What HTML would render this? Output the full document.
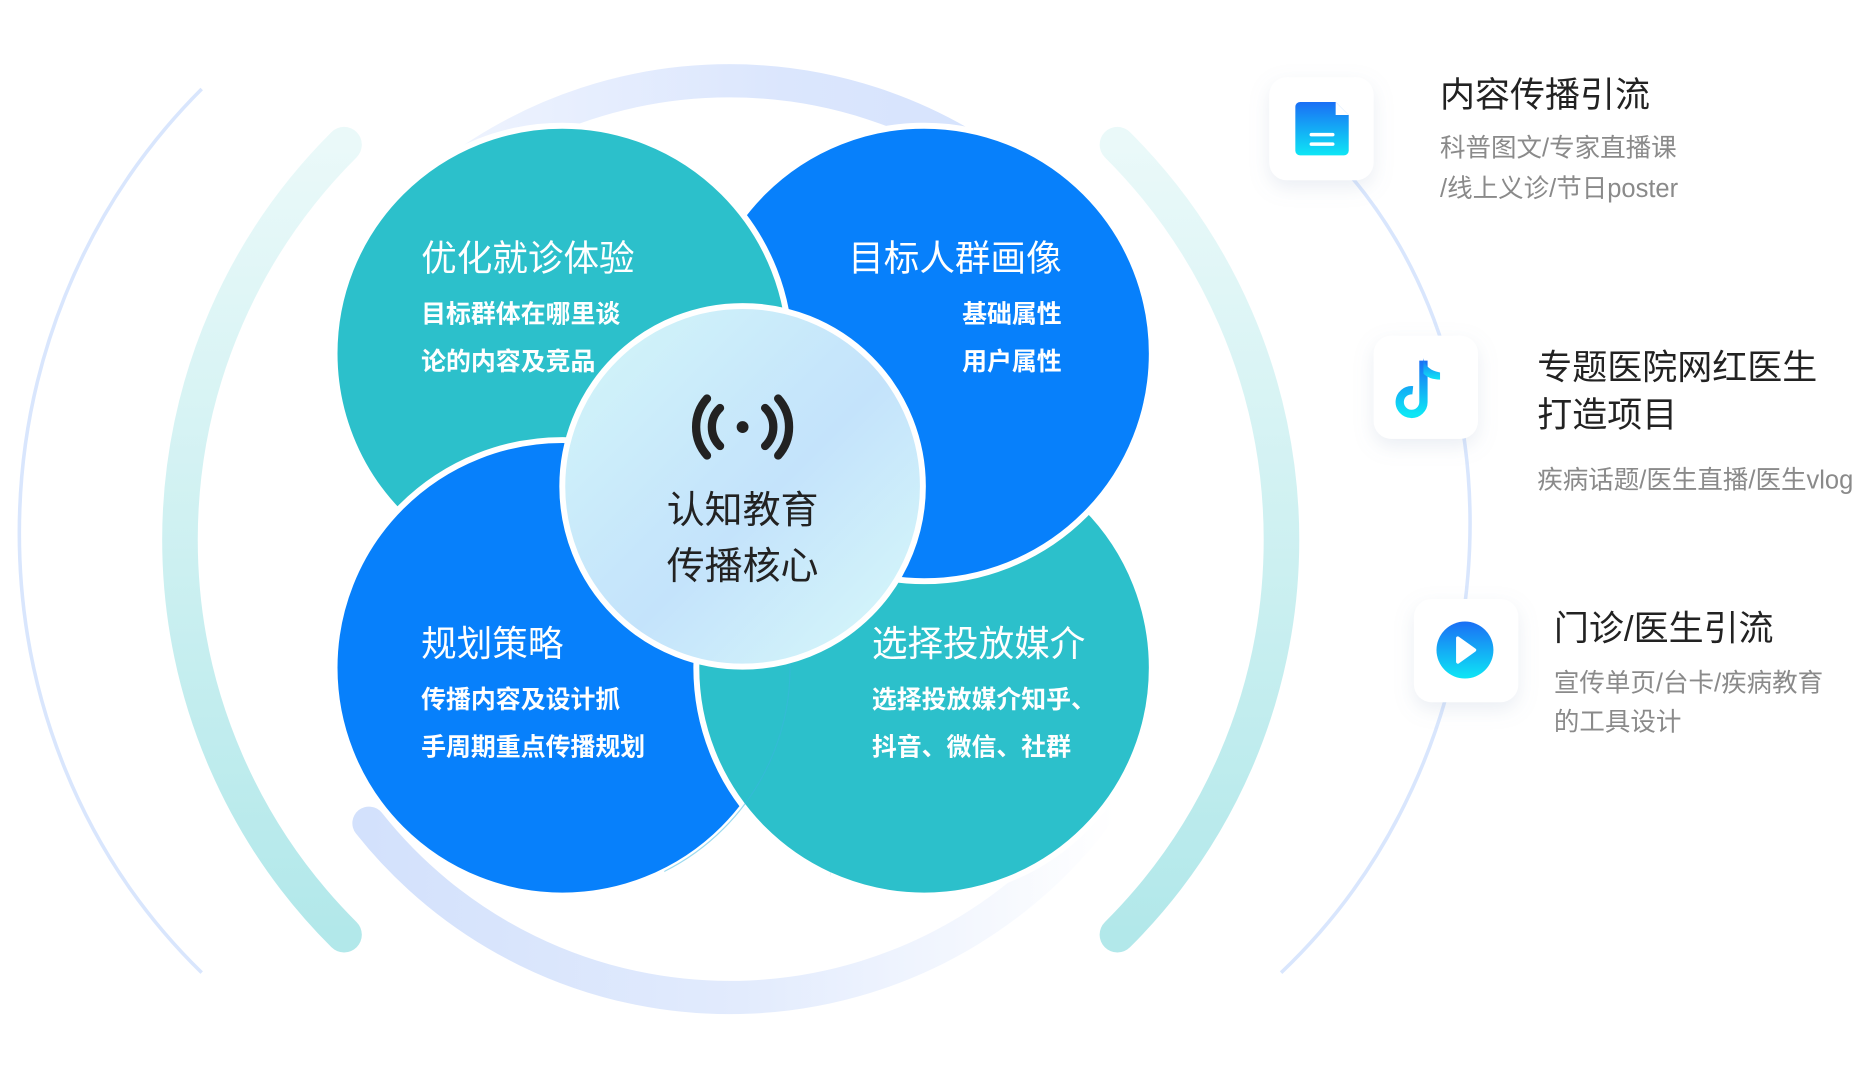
<!DOCTYPE html>
<html><head><meta charset="utf-8"><style>
html,body{margin:0;padding:0;background:#fff;}
svg{display:block;font-family:"Liberation Sans","Noto Sans CJK SC",sans-serif;}
</style></head><body>
<svg width="1860" height="1080" viewBox="0 0 1568 910.5" xmlns="http://www.w3.org/2000/svg">
<defs>
<linearGradient id="ringT" x1="0" y1="0" x2="1" y2="0">
<stop offset="0" stop-color="#eef3fe"/><stop offset="0.6" stop-color="#dbe6fd"/><stop offset="1" stop-color="#d6e3fd"/></linearGradient>
<linearGradient id="ringB" x1="0" y1="0" x2="1" y2="0">
<stop offset="0" stop-color="#d3e1fc"/><stop offset="0.5" stop-color="#e2ebfd"/><stop offset="1" stop-color="#ffffff"/></linearGradient>
<linearGradient id="teal" x1="0" y1="0" x2="0" y2="1">
<stop offset="0" stop-color="#eaf9f9"/><stop offset="1" stop-color="#b2e8ea"/></linearGradient>
<linearGradient id="core" x1="0" y1="0" x2="1" y2="1">
<stop offset="0" stop-color="#d4f7f8"/><stop offset="0.45" stop-color="#c6e6fb"/><stop offset="0.55" stop-color="#c4e3fb"/><stop offset="1" stop-color="#d8fafa"/></linearGradient>
<linearGradient id="ico" x1="0" y1="0" x2="0" y2="1">
<stop offset="0" stop-color="#1a6ff5"/><stop offset="1" stop-color="#0ee6f5"/></linearGradient>
<filter id="sh" x="-50%" y="-50%" width="200%" height="200%"><feDropShadow dx="0" dy="6" stdDeviation="8" flood-color="#8aa0c0" flood-opacity="0.18"/></filter>
<clipPath id="cp"><rect x="560" y="420" width="140" height="400"/></clipPath>
</defs>
<!-- thin arcs -->
<path d="M170 75 C-35 280 -35 620 170 820" fill="none" stroke="#d9e6fd" stroke-width="3"/>
<path d="M1140 150 C1290 330 1270 640 1080 820" fill="none" stroke="#d9e6fd" stroke-width="3"/>
<!-- big ring partial arcs -->
<path d="M390 140 A388 388 0 0 1 840 140" fill="none" stroke="url(#ringT)" stroke-width="28"/>
<path d="M311 694 A388 388 0 0 0 940 665" fill="none" stroke="url(#ringB)" stroke-width="28" stroke-linecap="round"/>
<!-- teal arcs -->
<path d="M290 122 A470 470 0 0 0 290 788" fill="none" stroke="url(#teal)" stroke-width="30" stroke-linecap="round"/>
<path d="M942 122 A470 470 0 0 1 942 788" fill="none" stroke="url(#teal)" stroke-width="30" stroke-linecap="round"/>
<!-- four circles (cyclic overlap) -->
<circle cx="779" cy="563" r="192" fill="#2cc0cb" stroke="#fff" stroke-width="5"/>
<circle cx="779" cy="298" r="192" fill="#0780fb" stroke="#fff" stroke-width="5"/>
<circle cx="474" cy="298" r="192" fill="#2cc0cb" stroke="#fff" stroke-width="5"/>
<circle cx="474" cy="563" r="192" fill="#0780fb" stroke="#fff" stroke-width="5"/>
<g clip-path="url(#cp)">
<circle cx="779" cy="563" r="192" fill="#2cc0cb" stroke="#fff" stroke-width="5"/>
<circle cx="474" cy="563" r="192" fill="none" stroke="#3ab6e0" stroke-width="1" opacity="0.5"/>
</g>
<!-- center -->
<circle cx="626" cy="410" r="152" fill="url(#core)" stroke="#fff" stroke-width="5"/>
<g fill="none" stroke="#222" stroke-width="7" stroke-linecap="round">
<path d="M607 344 A22 22 0 0 0 607 376"/><path d="M645 344 A22 22 0 0 1 645 376"/>
<path d="M596 336 A36 36 0 0 0 596 384"/><path d="M656 336 A36 36 0 0 1 656 384"/>
</g>
<circle cx="626" cy="360" r="5" fill="#222"/>
<text x="626" y="441" font-size="32" fill="#222" text-anchor="middle">认知教育</text>
<text x="626" y="488" font-size="32" fill="#222" text-anchor="middle">传播核心</text>
<!-- circle texts -->
<g fill="#fff">
<text x="355" y="228" font-size="30">优化就诊体验</text>
<text x="355" y="272" font-size="21" font-weight="bold">目标群体在哪里谈</text>
<text x="355" y="312" font-size="21" font-weight="bold">论的内容及竞品</text>
<text x="895" y="228" font-size="30" text-anchor="end">目标人群画像</text>
<text x="895" y="272" font-size="21" font-weight="bold" text-anchor="end">基础属性</text>
<text x="895" y="312" font-size="21" font-weight="bold" text-anchor="end">用户属性</text>
<text x="355" y="553" font-size="30">规划策略</text>
<text x="355" y="597" font-size="21" font-weight="bold">传播内容及设计抓</text>
<text x="355" y="637" font-size="21" font-weight="bold">手周期重点传播规划</text>
<text x="735" y="553" font-size="30">选择投放媒介</text>
<text x="735" y="597" font-size="21" font-weight="bold">选择投放媒介知乎、</text>
<text x="735" y="637" font-size="21" font-weight="bold">抖音、微信、社群</text>
</g>
<!-- icon cards -->
<rect x="1070" y="65" width="88" height="87" rx="15" fill="#fff" filter="url(#sh)"/>
<rect x="1158" y="283" width="88" height="87" rx="15" fill="#fff" filter="url(#sh)"/>
<rect x="1192" y="505" width="88" height="87" rx="15" fill="#fff" filter="url(#sh)"/>
<path d="M1096 86 h30 l11 11 v30 a4 4 0 0 1 -4 4 h-37 a4 4 0 0 1 -4 -4 v-37 a4 4 0 0 1 4 -4z" fill="url(#ico)"/>
<path d="M1126 86 v11 h11z" fill="#fff"/>
<path d="M1127 84 l11 11" stroke="#fff" stroke-width="2"/>
<rect x="1104" y="112" width="21" height="3" rx="1.5" fill="#fff"/>
<rect x="1104" y="120" width="21" height="3" rx="1.5" fill="#fff"/>
<path d="M1200 304 v35 a10 10 0 1 1 -9 -10" fill="none" stroke="url(#ico)" stroke-width="7"/>
<path d="M1200 302 q2 10 14 12 v6 q-9 0 -14 -5z" fill="url(#ico)"/>
<circle cx="1235" cy="548" r="24" fill="url(#ico)"/>
<path d="M1229 538 l14 10 l-14 10z" fill="#fff" stroke="#fff" stroke-width="3" stroke-linejoin="round"/>
<!-- right texts -->
<text x="1214" y="90" font-size="29.5" fill="#222">内容传播引流</text>
<text x="1214" y="132" font-size="21.5" fill="#8a8a8a">科普图文/专家直播课</text>
<text x="1214" y="166" font-size="21.5" fill="#8a8a8a">/线上义诊/节日poster</text>
<text x="1296" y="320" font-size="29.5" fill="#222">专题医院网红医生</text>
<text x="1296" y="360" font-size="29.5" fill="#222">打造项目</text>
<text x="1296" y="412" font-size="21.5" fill="#8a8a8a">疾病话题/医生直播/医生vlog</text>
<text x="1310" y="540" font-size="29.5" fill="#222">门诊/医生引流</text>
<text x="1310" y="583" font-size="21.5" fill="#8a8a8a">宣传单页/台卡/疾病教育</text>
<text x="1310" y="616" font-size="21.5" fill="#8a8a8a">的工具设计</text>
</svg>
</body></html>
